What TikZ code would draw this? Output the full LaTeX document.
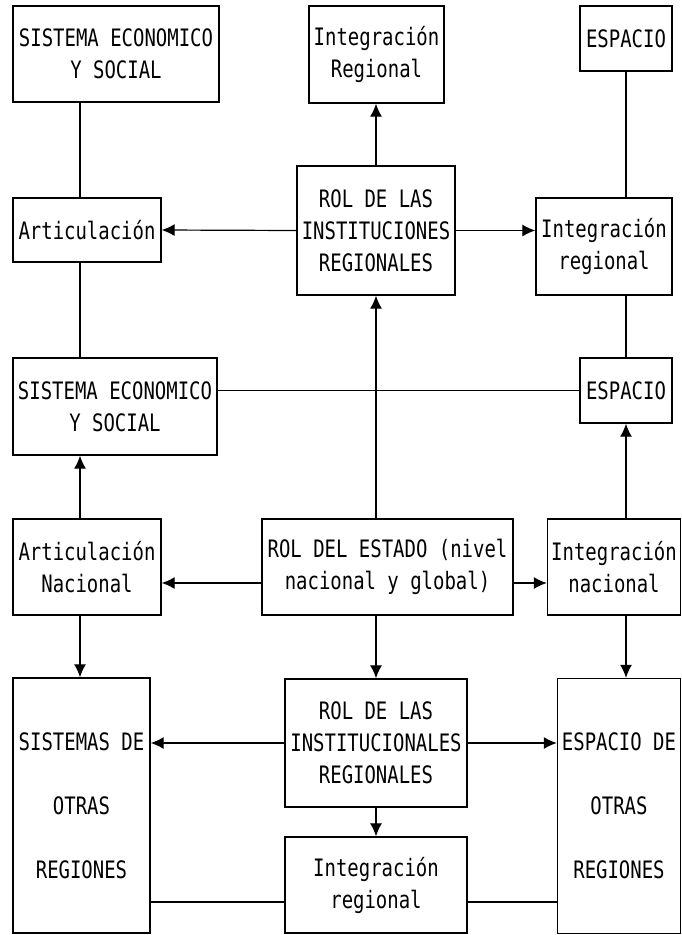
\documentclass[tikz,border=0pt]{standalone}
\usepackage{fontspec}
\setmonofont[FakeStretch=0.79]{DejaVu Sans Mono}
\usetikzlibrary{arrows.meta}
\begin{document}
\begin{tikzpicture}[x=1pt,y=-1pt,
    box/.style={draw,line width=1.4pt,inner sep=0pt,align=center,
      font=\ttfamily\fontsize{24}{32}\selectfont},
    every path/.style={line width=1.2pt},
    >={Latex[length=13pt,width=12pt]}]
      \useasboundingbox (0,0) rectangle (682,935);
      \node [box,minimum width=206pt,minimum height=96pt] (sis1) at (116,54) {SISTEMA ECONOMICO\\Y SOCIAL};
      \node [box,minimum width=135pt,minimum height=97pt] (int1) at (376.5,54.5) {Integración\\Regional};
      \node [box,minimum width=92pt,minimum height=65pt] (esp1) at (626,38.5) {ESPACIO};
      \node [box,minimum width=148pt,minimum height=64pt] (art1) at (87,230) {Articulación};
      \node [box,minimum width=158pt,minimum height=129pt] (rol1) at (376,230.5) {ROL DE LAS\\INSTITUCIONES\\REGIONALES};
      \node [box,minimum width=136pt,minimum height=97pt] (intr1) at (604,246.5) {Integración\\regional};
      \node [box,minimum width=204pt,minimum height=97pt] (sis2) at (115,406.5) {SISTEMA ECONOMICO\\Y SOCIAL};
      \node [box,minimum width=92pt,minimum height=65pt] (esp2) at (626,390.5) {ESPACIO};
      \node [box,minimum width=148pt,minimum height=96pt] (art2) at (87,567) {Articulación\\Nacional};
      \node [box,minimum width=251pt,minimum height=96pt] (estado) at (387.5,567) {ROL DEL ESTADO (nivel\\nacional y global)};
      \node [box,minimum width=133pt,minimum height=96pt] (intn) at (614,567) {Integración\\nacional};
      \node [box,minimum width=137pt,minimum height=255pt] (otras) at (81.5,805.5) {SISTEMAS DE\\[32pt]OTRAS\\[32pt]REGIONES};
      \node [box,minimum width=182pt,minimum height=128pt] (rol2) at (376,743) {ROL DE LAS\\INSTITUCIONALES\\REGIONALES};
      \node [box,minimum width=123pt,minimum height=255pt] (espo) at (619,806) {ESPACIO DE\\[32pt]OTRAS\\[32pt]REGIONES};
      \node [box,minimum width=182pt,minimum height=96pt] (intr2) at (376,885) {Integración\\regional};
      \coordinate (lx) at (80,0);

      % top half
      \draw (sis1.south -| lx) -- (art1.north -| lx);
      \draw (art1.south -| lx) -- (sis2.north -| lx);
      \draw (esp1.south) -- (intr1.north -| esp1.south);
      \draw (intr1.south -| esp2.north) -- (esp2.north);
      \draw[->] (rol1.north) -- (int1.south -| rol1.north);
      \draw[->] (rol1.west) -- (art1.east);
      \draw[->] (rol1.east) -- (rol1.east -| intr1.west);
      \draw (esp2.west) -- (esp2.west -| sis2.east);

      % bottom half
      \draw[->] (estado.north -| rol1.south) -- (rol1.south);
      \draw[->] (art2.north -| lx) -- (sis2.south -| lx);
      \draw[->] (intn.north -| esp2.south) -- (esp2.south);
      \draw[->] ([yshift=-16pt]estado.west) -- ([yshift=-16pt]estado.west -| art2.east);
      \draw[->] ([yshift=-16pt]estado.east) -- ([yshift=-16pt]estado.east -| intn.west);
      \draw[->] (art2.south -| lx) -- (otras.north -| lx);
      \draw[->] (estado.south -| rol2.north) -- (rol2.north);
      \draw[->] (intn.south -| esp2.south) -- (espo.north -| esp2.south);
      \draw[->] (rol2.west) -- (rol2.west -| otras.east);
      \draw[->] (rol2.east) -- (rol2.east -| espo.west);
      \draw[->] (rol2.south) -- (intr2.north);
      \draw ([yshift=-17pt]intr2.west) -- ([yshift=-17pt]intr2.west -| otras.east);
      \draw ([yshift=-17pt]intr2.east) -- ([yshift=-17pt]intr2.east -| espo.west);
    \end{tikzpicture}
\end{document}
